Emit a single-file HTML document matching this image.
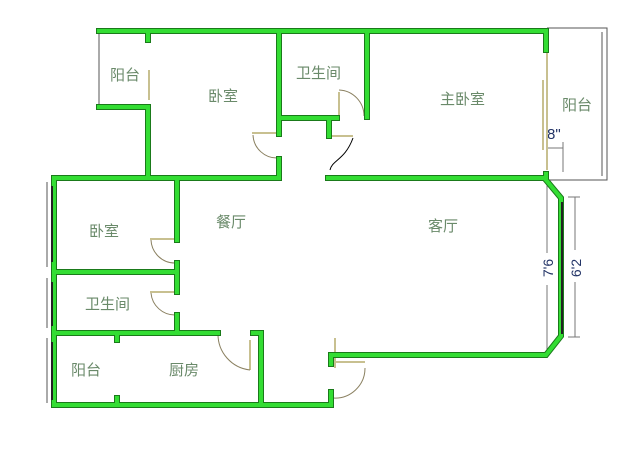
<!DOCTYPE html>
<html><head><meta charset="utf-8"><style>
html,body{margin:0;padding:0;background:#fff;}
svg{display:block;}
text{font-family:"Liberation Sans","Noto Sans CJK SC",sans-serif;}
.l{fill:#6a8a6a;font-size:15px;}
</style></head><body>
<svg width="640" height="459" viewBox="0 0 640 459" xmlns="http://www.w3.org/2000/svg">
<rect width="640" height="459" fill="#fff"/>
<g fill="none" stroke="#555" stroke-width="1">
<path d="M99 31 V107"/>
<path d="M547 28 H607 V180 H547"/>
<path d="M602 32 V176"/>
<path d="M47 182 V267 M47 278 V328 M47 338 V403"/>
</g>
<g stroke="#777" stroke-width="1" fill="none">
<path d="M547 148 H563 M563 142 V172"/>
<path d="M547 182 V253 M547 285 V352"/>
<path d="M575 197 V250 M575 282 V337 M568 197 H580 M568 337 H580"/>
</g>
<text x="547" y="139" font-size="15" fill="#223366">8"</text>
<text transform="translate(553,268) rotate(-90)" font-size="14" fill="#223366" text-anchor="middle">7'6</text>
<text transform="translate(581,268) rotate(-90)" font-size="14" fill="#223366" text-anchor="middle">6'2</text>
<g stroke="#c8c090" stroke-width="2" fill="none">
<path d="M149 70 V100"/>
<path d="M543 80 V150 M547 50 V170"/>
<path d="M339 92 V118"/>
<path d="M335 338 V368 M334 362 H365"/>
<path d="M250 340 V370"/>
<path d="M150 239 H177 M150 292 H177 M252 133 H279 M330 136 H353"/>
</g>
<g stroke="#8a8060" stroke-width="1" fill="none">
<path d="M339 90 A26 26 0 0 1 364 116"/>
<path d="M253 135 A24 24 0 0 0 278 158"/>
<path d="M353 138 C345 160 332 160 330 170" stroke="#000"/>
<path d="M151 240 A24 24 0 0 0 175 263"/>
<path d="M151 293 A24 24 0 0 0 175 315"/>
<path d="M218 334 A36 36 0 0 0 250 370"/>
<path d="M365 368 A30 30 0 0 1 333 398"/>
</g>
<g stroke="#1a7a1a" stroke-width="6" fill="none" stroke-linejoin="miter" stroke-linecap="square">
<path d="M99 31 H546 V50"/>
<path d="M99 107 H148 V178"/>
<path d="M148 32 V40"/>
<path d="M279 31 V134 M279 159 V178"/>
<path d="M279 118 H337 M329 118 V136"/>
<path d="M367 31 V117"/>
<path d="M54 178 H279"/>
<path d="M328 178 H546 V174 M546 180 L561 198 V336 L546 355 H331 V364"/>
<path d="M331 392 V405 H54 V178"/>
<path d="M54 272 H177 M54 333 H218 M177 178 V240 M177 263 V292 M177 315 V333"/>
<path d="M253 333 H261 V405"/>
<path d="M117 333 V340 M117 398 V405"/>
</g>
<g stroke="#33dd33" stroke-width="4" fill="none" stroke-linejoin="miter" stroke-linecap="square">
<path d="M99 31 H546 V50"/>
<path d="M99 107 H148 V178"/>
<path d="M148 32 V40"/>
<path d="M279 31 V134 M279 159 V178"/>
<path d="M279 118 H337 M329 118 V136"/>
<path d="M367 31 V117"/>
<path d="M54 178 H279"/>
<path d="M328 178 H546 V174 M546 180 L561 198 V336 L546 355 H331 V364"/>
<path d="M331 392 V405 H54 V178"/>
<path d="M54 272 H177 M54 333 H218 M177 178 V240 M177 263 V292 M177 315 V333"/>
<path d="M253 333 H261 V405"/>
<path d="M117 333 V340 M117 398 V405"/>
</g>
<g stroke="#222" stroke-width="2" fill="none">
<path d="M562 202 V334"/>
<path d="M52 186 V262 M52 282 V326 M52 342 V400"/>
</g>
<text class="l" x="110" y="80">阳台</text>
<text class="l" x="208" y="101">卧室</text>
<text class="l" x="296" y="78">卫生间</text>
<text class="l" x="440" y="104">主卧室</text>
<text class="l" x="562" y="110">阳台</text>
<text class="l" x="89" y="236">卧室</text>
<text class="l" x="216" y="227">餐厅</text>
<text class="l" x="428" y="231">客厅</text>
<text class="l" x="85" y="309">卫生间</text>
<text class="l" x="71" y="375">阳台</text>
<text class="l" x="169" y="375">厨房</text>
</svg>
</body></html>
